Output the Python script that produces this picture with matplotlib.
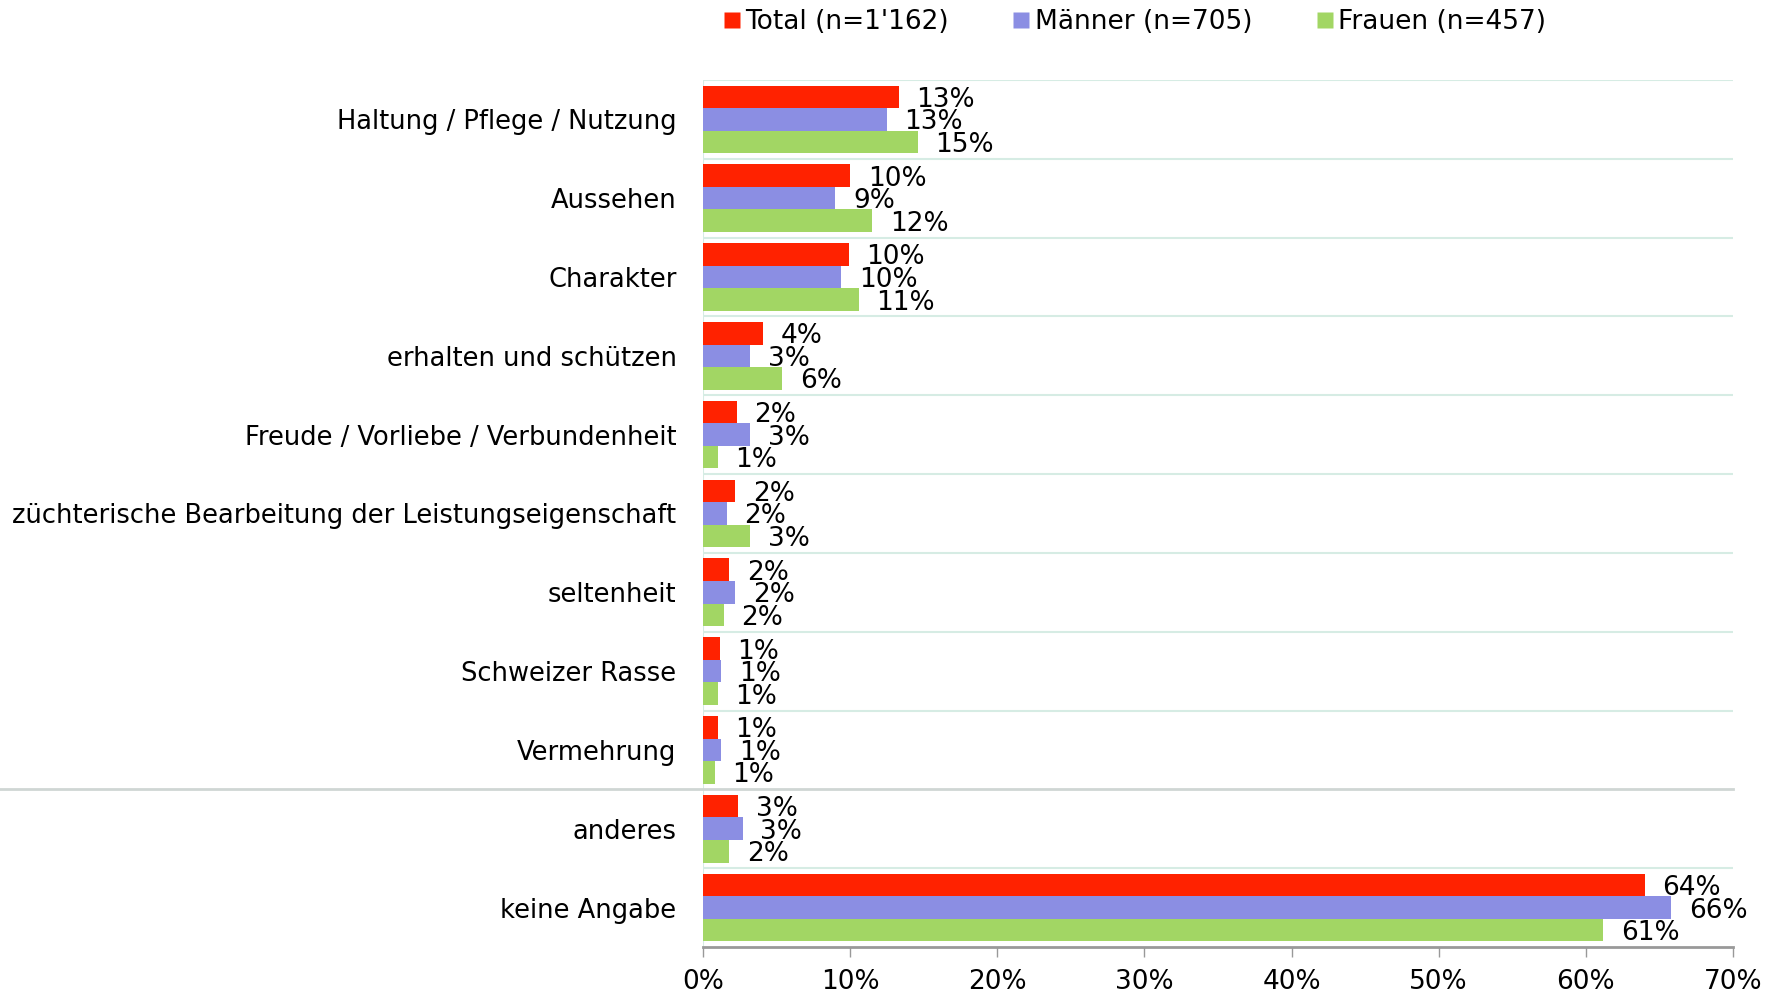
import matplotlib.pyplot as plt
import matplotlib.transforms as mtransforms
from matplotlib.lines import Line2D
import numpy as np

# categories top -> bottom
categories = ["Haltung / Pflege / Nutzung", "Aussehen", "Charakter",
              "erhalten und schützen", "Freude / Vorliebe / Verbundenheit",
              "züchterische Bearbeitung der Leistungseigenschaft", "seltenheit",
              "Schweizer Rasse", "Vermehrung", "anderes", "keine Angabe"]

total = [13.3, 10.0, 9.9, 4.1, 2.3, 2.2, 1.8, 1.15, 1.0, 2.4, 64.0]
maenner = [12.5, 9.0, 9.4, 3.2, 3.2, 1.6, 2.2, 1.25, 1.25, 2.7, 65.8]
frauen = [14.6, 11.5, 10.6, 5.4, 1.0, 3.2, 1.4, 1.0, 0.8, 1.8, 61.2]

total_lbl = ["13%", "10%", "10%", "4%", "2%", "2%", "2%", "1%", "1%", "3%", "64%"]
maenner_lbl = ["13%", "9%", "10%", "3%", "3%", "2%", "2%", "1%", "1%", "3%", "66%"]
frauen_lbl = ["15%", "12%", "11%", "6%", "1%", "3%", "2%", "1%", "1%", "2%", "61%"]

series_names = ["Total (n=1'162)", "Männer (n=705)", "Frauen (n=457)"]
colors = ["#ff2200", "#8b8ee3", "#a2d664"]

plt.rcParams['font.family'] = ['DejaVu Sans']
fs = 19

fig = plt.figure(figsize=(17.73, 9.96), dpi=100)
ax = fig.add_axes([0.3965, 0.0492, 0.9774 - 0.3965, 0.9197 - 0.0492])

y = np.arange(len(categories))
h = 0.286
for vals, lbls, col, off in zip([total, maenner, frauen],
                                [total_lbl, maenner_lbl, frauen_lbl],
                                colors, [-h, 0, h]):
    ax.barh(y + off, vals, height=h, color=col, edgecolor='none', zorder=3)
    for yi, v, l in zip(y, vals, lbls):
        ax.text(v + 1.2, yi + off, l, va='center_baseline', ha='left',
                fontsize=fs, zorder=4)

ax.set_xlim(0, 70)
ax.set_ylim(10.5, -0.5)

# row separators
for b in np.arange(-0.5, 10, 1.0):
    if b == 8.5:
        continue
    ax.axhline(b, color='#d6ece4', lw=1.5, zorder=1)
trans = mtransforms.blended_transform_factory(fig.transFigure, ax.transData)
ax.add_line(Line2D([0, 0.9774], [8.5, 8.5], transform=trans, color='#cfd6d4',
                   lw=2, clip_on=False, zorder=2))
ax.axvline(0, color='#d6ece4', lw=1.5, zorder=1)

for s in ['top', 'right', 'left']:
    ax.spines[s].set_visible(False)
ax.spines['bottom'].set_color('#999999')
ax.spines['bottom'].set_linewidth(2)

ax.set_xticks(range(0, 71, 10))
ax.set_xticklabels([f"{t}%" for t in range(0, 71, 10)], fontsize=fs)
ax.tick_params(axis='x', length=7, width=1, color='#999999', pad=9)
ax.set_yticks(y)
ax.set_yticklabels(categories, fontsize=18.5)
ax.tick_params(axis='y', length=0, pad=19)

handles = [Line2D([], [], marker='s', linestyle='none', markersize=11,
                  markerfacecolor=c, markeredgecolor='none') for c in colors]
fig.legend(handles, series_names, loc='center left', ncol=3,
           bbox_to_anchor=(0.3935, 0.978), frameon=False, fontsize=fs,
           handletextpad=0.1, columnspacing=2.35, handlelength=0.8)

fig.savefig("out.png", dpi=100)
